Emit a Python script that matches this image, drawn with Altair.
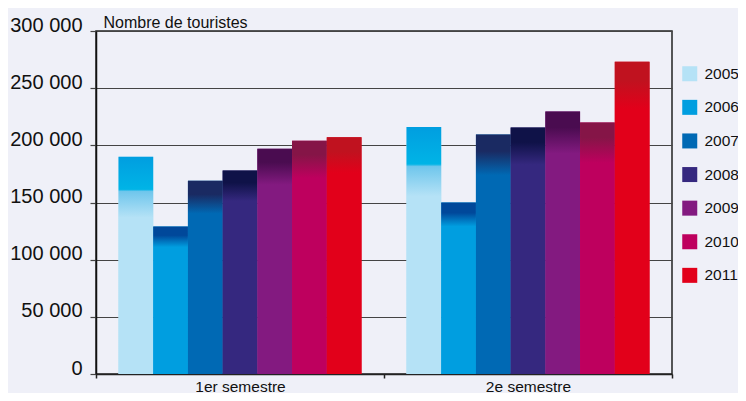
import altair as alt
import pandas as pd

semestres = ["1er semestre", "2e semestre"]
annees = ["2005", "2006", "2007", "2008", "2009", "2010", "2011"]
s1 = [190000, 129000, 169000, 178000, 197000, 204000, 207000]
s2 = [216000, 150000, 209500, 215500, 229500, 220000, 273000]

base_colors = ["#b5e2f6", "#009ee0", "#0069b4", "#35287f", "#831a80", "#be005e", "#e2001a"]
top_colors = ["#009ee0", "#00489a", "#1a2a62", "#0f1248", "#4a0c50", "#851547", "#c0121f"]
mid_colors = ["#00b4e6", "#00489a", "#1a2a62", "#0f1248", "#4a0c50", "#851547", "#c0121f"]

rows = []
for i, a in enumerate(annees):
    rows.append({"semestre": semestres[0], "annee": a, "valeur": s1[i]})
    rows.append({"semestre": semestres[1], "annee": a, "valeur": s2[i]})
df = pd.DataFrame(rows)

FONT = "Liberation Sans, Arial, sans-serif"

x_enc = alt.X("semestre:N", sort=semestres,
              scale=alt.Scale(paddingInner=0, paddingOuter=0),
              axis=alt.Axis(title=None, labelAngle=0, tickBand="extent",
                            domainColor="#222", domainWidth=1.5,
                            tickColor="#222", tickWidth=1.5, tickSize=4,
                            labelFont=FONT, labelFontSize=15.5, labelColor="#111",
                            labelPadding=1))
xo_enc = alt.XOffset("annee:N", sort=annees,
                     scale=alt.Scale(domain=annees, paddingInner=0, paddingOuter=0.648))
y_enc = alt.Y("valeur:Q",
              scale=alt.Scale(domain=[0, 300000], nice=False),
              axis=alt.Axis(values=[0, 50000, 100000, 150000, 200000, 250000, 300000],
                            labelExpr="replace(format(datum.value, ',d'), ',', ' ')",
                            title="Nombre de touristes", titleAngle=0,
                            titleAlign="left", titleBaseline="alphabetic",
                            titleX=7, titleY=-4, titleFont=FONT, titleFontSize=16,
                            titleFontWeight="normal", titleColor="#111",
                            grid=True, gridColor="#444", gridWidth=1.2,
                            domainColor="#111", domainWidth=1.5,
                            tickColor="#444", tickWidth=1.2, tickSize=6,
                            labelFont=FONT, labelFontSize=20, labelColor="#111",
                            labelBaseline="alphabetic", labelPadding=8))

base = alt.Chart(df).mark_bar().encode(
    x=x_enc, xOffset=xo_enc, y=y_enc,
    color=alt.Color("annee:N", sort=annees,
                    scale=alt.Scale(domain=annees, range=base_colors),
                    legend=alt.Legend(title=None, orient="none", legendX=586, legendY=35,
                                      symbolType="square", symbolSize=225,
                                      symbolStrokeWidth=0, labelFont=FONT,
                                      labelFontSize=15.5, labelColor="#111",
                                      rowPadding=16.6, labelOffset=7)),
)

stops_pos = [
    (0.15, 0.16, 0.28),
    (0.05, 0.06, 0.14),
    (0.06, 0.07, 0.17),
    (0.05, 0.06, 0.15),
    (0.05, 0.06, 0.16),
    (0.05, 0.06, 0.16),
    (0.05, 0.06, 0.15),
]

layers = [base]
for i, a in enumerate(annees):
    p1, p2, p3 = stops_pos[i]
    grad = alt.Gradient(
        gradient="linear", x1=0, y1=0, x2=0, y2=1,
        stops=[
            alt.GradientStop(offset=0, color=top_colors[i]),
            alt.GradientStop(offset=p1, color=mid_colors[i]),
            alt.GradientStop(offset=p2, color=mid_colors[i] if i > 0 else "#6fc6ec"),
            alt.GradientStop(offset=p3, color=base_colors[i]),
            alt.GradientStop(offset=1, color=base_colors[i]),
        ],
    )
    layers.append(
        alt.Chart(df).transform_filter(alt.datum.annee == a)
        .mark_bar(color=grad).encode(x=x_enc, xOffset=xo_enc, y=y_enc)
    )

chart = alt.layer(*layers).properties(
    width=576, height=343,
    autosize=alt.AutoSizeParams(type="none"),
    padding={"left": 88, "top": 23, "right": 66, "bottom": 19},
    background="#eff0f8",
).configure_view(stroke="#222", strokeWidth=1.5)

chart.save("out.html", embed_options={"renderer": "svg", "actions": False})
